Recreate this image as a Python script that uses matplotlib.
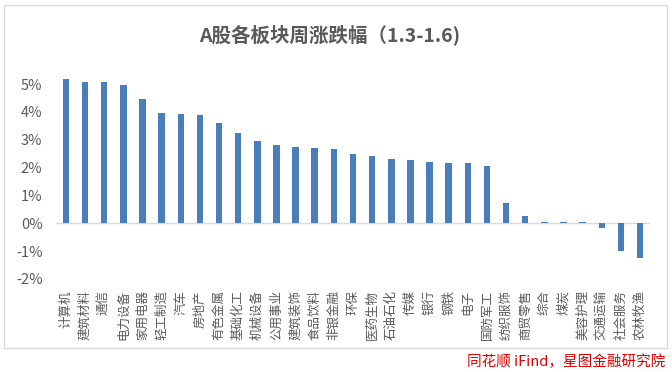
import matplotlib
matplotlib.use("Agg")
import matplotlib.pyplot as plt
from matplotlib.patches import Rectangle
from matplotlib.ticker import FuncFormatter

plt.rcParams['font.family'] = ['Noto Sans CJK SC', 'DejaVu Sans']

categories = ["计算机", "建筑材料", "通信", "电力设备", "家用电器", "轻工制造", "汽车", "房地产",
              "有色金属", "基础化工", "机械设备", "公用事业", "建筑装饰", "食品饮料", "非银金融",
              "环保", "医药生物", "石油石化", "传媒", "银行", "钢铁", "电子", "国防军工",
              "纺织服饰", "商贸零售", "综合", "煤炭", "美容护理", "交通运输", "社会服务", "农林牧渔"]
values = [5.17, 5.06, 5.06, 4.96, 4.46, 3.96, 3.92, 3.88,
          3.59, 3.23, 2.95, 2.80, 2.73, 2.69, 2.66,
          2.48, 2.41, 2.30, 2.26, 2.19, 2.16, 2.16, 2.05,
          0.73, 0.27, 0.05, 0.05, 0.05, -0.17, -1.00, -1.25]
yticks = [-2, -1, 0, 1, 2, 3, 4, 5]

fig = plt.figure(figsize=(6.72, 3.72), dpi=100)
fig.patch.set_facecolor('white')

# chart border
fig.patches.append(Rectangle((4/672, 1-348/372), (667-4)/672, (348-5)/372,
                             transform=fig.transFigure, fill=False,
                             edgecolor='#D9D9D9', linewidth=1.0))

ax = fig.add_axes([56.4/672, 1-279/372, (649.6-56.4)/672, (279-70.1)/372])
x = list(range(len(categories)))
ax.bar(x, values, width=0.34, color='#4A7EBB', zorder=3)
ax.axhline(0, color='#D9D9D9', linewidth=1.0, zorder=2)
ax.set_xlim(-0.5, len(categories) - 0.5)
ax.set_ylim(-2, 5.5)
ax.set_yticks(yticks)
ax.yaxis.set_major_formatter(FuncFormatter(lambda v, p: f"{int(round(v))}%"))
ax.set_xticks(x)
ax.set_xticklabels(categories, rotation=90, fontsize=9, color='#595959')
for s in ax.spines.values():
    s.set_visible(False)
ax.tick_params(axis='both', length=0)
ax.tick_params(axis='x', pad=8)
ax.tick_params(axis='y', pad=10, labelsize=10.5, labelcolor='#595959')

fig.text(330/672, 1-35/372, "A股各板块周涨跌幅（1.3-1.6)", ha='center', va='center',
         fontsize=14, fontweight='bold', color='#595959')
fig.text(665/672, 1-362/372, "同花顺 iFind，星图金融研究院", ha='right', va='center',
         fontsize=10.5, color='#E00000', style='italic')

fig.savefig("out.png", dpi=100)
